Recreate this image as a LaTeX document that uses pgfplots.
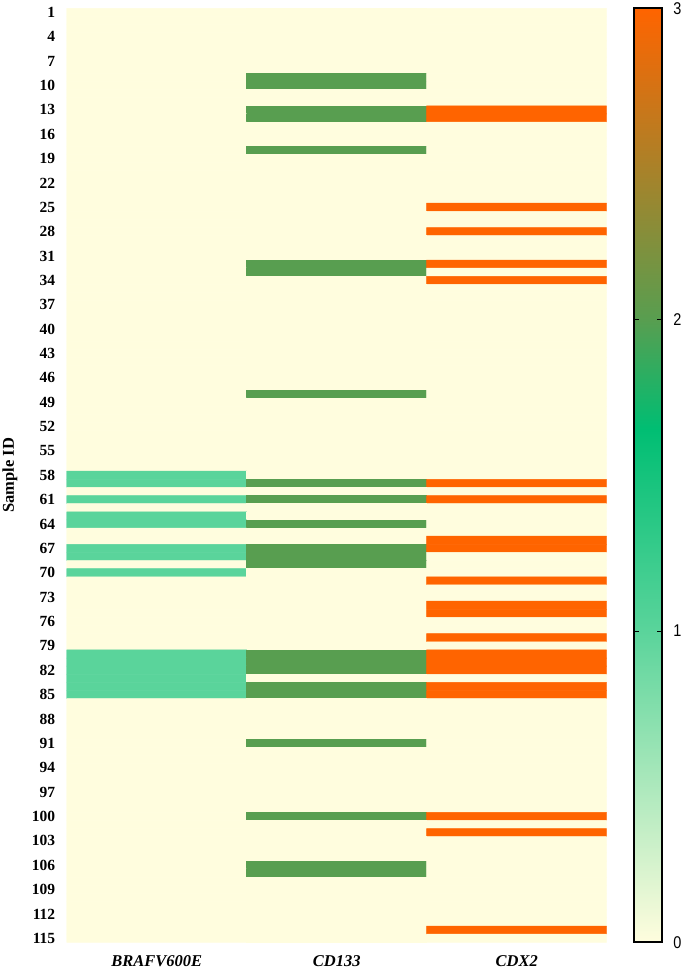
\documentclass[border=0pt]{standalone}
\usepackage{fontspec}
\setmainfont{Liberation Serif}
\newfontfamily\sansf[FakeStretch=0.85]{Liberation Sans}
\usepackage{pgfplots}
\usepackage{pgfplotstable}
\pgfplotsset{compat=1.18}
\pgfplotstableread[row sep=\\]{
x y v\\
0 1 0\\ 1 1 0\\ 2 1 0\\
0 2 0\\ 1 2 0\\ 2 2 0\\
0 3 0\\ 1 3 0\\ 2 3 0\\
0 4 0\\ 1 4 0\\ 2 4 0\\
0 5 0\\ 1 5 0\\ 2 5 0\\
0 6 0\\ 1 6 0\\ 2 6 0\\
0 7 0\\ 1 7 0\\ 2 7 0\\
0 8 0\\ 1 8 0\\ 2 8 0\\
0 9 0\\ 1 9 2\\ 2 9 0\\
0 10 0\\ 1 10 2\\ 2 10 0\\
0 11 0\\ 1 11 0\\ 2 11 0\\
0 12 0\\ 1 12 0\\ 2 12 0\\
0 13 0\\ 1 13 2\\ 2 13 3\\
0 14 0\\ 1 14 2\\ 2 14 3\\
0 15 0\\ 1 15 0\\ 2 15 0\\
0 16 0\\ 1 16 0\\ 2 16 0\\
0 17 0\\ 1 17 0\\ 2 17 0\\
0 18 0\\ 1 18 2\\ 2 18 0\\
0 19 0\\ 1 19 0\\ 2 19 0\\
0 20 0\\ 1 20 0\\ 2 20 0\\
0 21 0\\ 1 21 0\\ 2 21 0\\
0 22 0\\ 1 22 0\\ 2 22 0\\
0 23 0\\ 1 23 0\\ 2 23 0\\
0 24 0\\ 1 24 0\\ 2 24 0\\
0 25 0\\ 1 25 0\\ 2 25 3\\
0 26 0\\ 1 26 0\\ 2 26 0\\
0 27 0\\ 1 27 0\\ 2 27 0\\
0 28 0\\ 1 28 0\\ 2 28 3\\
0 29 0\\ 1 29 0\\ 2 29 0\\
0 30 0\\ 1 30 0\\ 2 30 0\\
0 31 0\\ 1 31 0\\ 2 31 0\\
0 32 0\\ 1 32 2\\ 2 32 3\\
0 33 0\\ 1 33 2\\ 2 33 0\\
0 34 0\\ 1 34 0\\ 2 34 3\\
0 35 0\\ 1 35 0\\ 2 35 0\\
0 36 0\\ 1 36 0\\ 2 36 0\\
0 37 0\\ 1 37 0\\ 2 37 0\\
0 38 0\\ 1 38 0\\ 2 38 0\\
0 39 0\\ 1 39 0\\ 2 39 0\\
0 40 0\\ 1 40 0\\ 2 40 0\\
0 41 0\\ 1 41 0\\ 2 41 0\\
0 42 0\\ 1 42 0\\ 2 42 0\\
0 43 0\\ 1 43 0\\ 2 43 0\\
0 44 0\\ 1 44 0\\ 2 44 0\\
0 45 0\\ 1 45 0\\ 2 45 0\\
0 46 0\\ 1 46 0\\ 2 46 0\\
0 47 0\\ 1 47 0\\ 2 47 0\\
0 48 0\\ 1 48 2\\ 2 48 0\\
0 49 0\\ 1 49 0\\ 2 49 0\\
0 50 0\\ 1 50 0\\ 2 50 0\\
0 51 0\\ 1 51 0\\ 2 51 0\\
0 52 0\\ 1 52 0\\ 2 52 0\\
0 53 0\\ 1 53 0\\ 2 53 0\\
0 54 0\\ 1 54 0\\ 2 54 0\\
0 55 0\\ 1 55 0\\ 2 55 0\\
0 56 0\\ 1 56 0\\ 2 56 0\\
0 57 0\\ 1 57 0\\ 2 57 0\\
0 58 1\\ 1 58 0\\ 2 58 0\\
0 59 1\\ 1 59 2\\ 2 59 3\\
0 60 0\\ 1 60 0\\ 2 60 0\\
0 61 1\\ 1 61 2\\ 2 61 3\\
0 62 0\\ 1 62 0\\ 2 62 0\\
0 63 1\\ 1 63 0\\ 2 63 0\\
0 64 1\\ 1 64 2\\ 2 64 0\\
0 65 0\\ 1 65 0\\ 2 65 0\\
0 66 0\\ 1 66 0\\ 2 66 3\\
0 67 1\\ 1 67 2\\ 2 67 3\\
0 68 1\\ 1 68 2\\ 2 68 0\\
0 69 0\\ 1 69 2\\ 2 69 0\\
0 70 1\\ 1 70 0\\ 2 70 0\\
0 71 0\\ 1 71 0\\ 2 71 3\\
0 72 0\\ 1 72 0\\ 2 72 0\\
0 73 0\\ 1 73 0\\ 2 73 0\\
0 74 0\\ 1 74 0\\ 2 74 3\\
0 75 0\\ 1 75 0\\ 2 75 3\\
0 76 0\\ 1 76 0\\ 2 76 0\\
0 77 0\\ 1 77 0\\ 2 77 0\\
0 78 0\\ 1 78 0\\ 2 78 3\\
0 79 0\\ 1 79 0\\ 2 79 0\\
0 80 1\\ 1 80 2\\ 2 80 3\\
0 81 1\\ 1 81 2\\ 2 81 3\\
0 82 1\\ 1 82 2\\ 2 82 3\\
0 83 1\\ 1 83 0\\ 2 83 0\\
0 84 1\\ 1 84 2\\ 2 84 3\\
0 85 1\\ 1 85 2\\ 2 85 3\\
0 86 0\\ 1 86 0\\ 2 86 0\\
0 87 0\\ 1 87 0\\ 2 87 0\\
0 88 0\\ 1 88 0\\ 2 88 0\\
0 89 0\\ 1 89 0\\ 2 89 0\\
0 90 0\\ 1 90 0\\ 2 90 0\\
0 91 0\\ 1 91 2\\ 2 91 0\\
0 92 0\\ 1 92 0\\ 2 92 0\\
0 93 0\\ 1 93 0\\ 2 93 0\\
0 94 0\\ 1 94 0\\ 2 94 0\\
0 95 0\\ 1 95 0\\ 2 95 0\\
0 96 0\\ 1 96 0\\ 2 96 0\\
0 97 0\\ 1 97 0\\ 2 97 0\\
0 98 0\\ 1 98 0\\ 2 98 0\\
0 99 0\\ 1 99 0\\ 2 99 0\\
0 100 0\\ 1 100 2\\ 2 100 3\\
0 101 0\\ 1 101 0\\ 2 101 0\\
0 102 0\\ 1 102 0\\ 2 102 3\\
0 103 0\\ 1 103 0\\ 2 103 0\\
0 104 0\\ 1 104 0\\ 2 104 0\\
0 105 0\\ 1 105 0\\ 2 105 0\\
0 106 0\\ 1 106 2\\ 2 106 0\\
0 107 0\\ 1 107 2\\ 2 107 0\\
0 108 0\\ 1 108 0\\ 2 108 0\\
0 109 0\\ 1 109 0\\ 2 109 0\\
0 110 0\\ 1 110 0\\ 2 110 0\\
0 111 0\\ 1 111 0\\ 2 111 0\\
0 112 0\\ 1 112 0\\ 2 112 0\\
0 113 0\\ 1 113 0\\ 2 113 0\\
0 114 0\\ 1 114 0\\ 2 114 3\\
0 115 0\\ 1 115 0\\ 2 115 0\\
}\heat
\begin{document}
\begin{tikzpicture}
\path[use as bounding box] (-66.7pt,-30.7pt) rectangle (618.3pt,942.3pt);
\begin{axis}[
  at={(0,0)}, anchor=south west,
  scale only axis, width=540pt, height=934pt,
  xmin=-0.5, xmax=2.5, ymin=0.5, ymax=115.5, y dir=reverse,
  xtick={0,1,2}, xticklabels={BRAFV600E,CD133,CDX2},
  ytick={1,4,...,115},
  axis line style={draw=none}, major tick length=0pt,
  /pgf/number format/assume math mode=true,
  xticklabel style={font=\fontsize{16.5}{18}\selectfont\bfseries\itshape, yshift=-10pt},
  yticklabel style={font=\fontsize{15.5}{17}\selectfont\bfseries, xshift=-8pt},
  ylabel={Sample ID},
  ylabel style={font=\fontsize{16.5}{18}\selectfont\bfseries, at={(axis description cs:-0.105,0.5)}, anchor=center},
  colormap={heat}{[1pt] rgb255(0pt)=(255,253,222) rgb255(20pt)=(90,212,155) rgb255(33pt)=(0,190,115) rgb255(40pt)=(88,158,80) rgb255(60pt)=(255,100,0)},
  point meta min=0, point meta max=3,
  colorbar,
  colorbar/width=28pt,
  colorbar style={
    at={(parent axis.north east)}, anchor=north west, xshift=19pt,
    ytick={0,1,2,3},
    yticklabel pos=right, ytick pos=both,
    tick align=inside, major tick length=5pt,
    line width=1.8pt,
    tick style={draw=black, line width=0.9pt},
    yticklabel style={font=\sansf\fontsize{17}{19}\selectfont, xshift=7pt},
    /pgf/number format/assume math mode=true,
  },
]
\addplot[matrix plot*, draw=mapped color, line width=0.5pt, mesh/cols=3, point meta=explicit] table[x=x, y=y, meta=v] {\heat};
\end{axis}
\end{tikzpicture}
\end{document}
